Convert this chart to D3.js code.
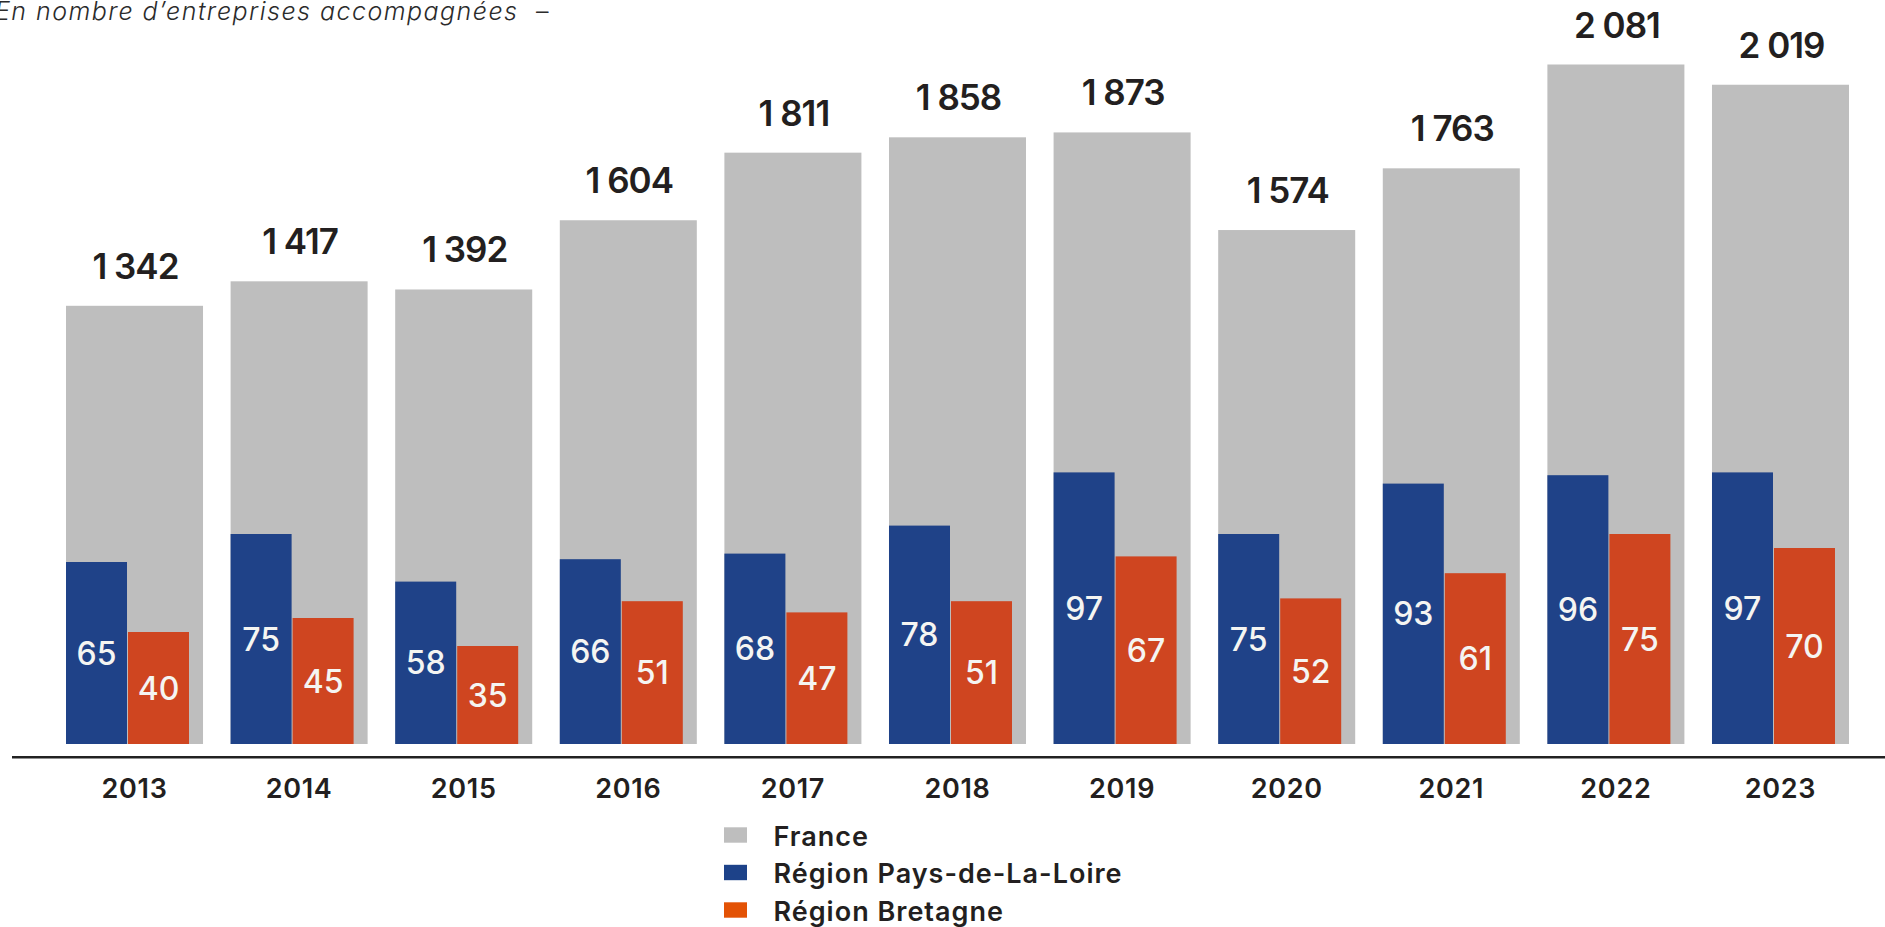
<!DOCTYPE html>
<html>
<head>
	<meta charset="utf-8" />
	<title>Entreprises accompagnées</title>
	<script src="https://d3js.org/d3.v7.min.js"></script>
	<style type="text/css">
		body {
			margin: 0;
			background: #fff;
		}
		svg text {
			font-family: Inter, "Noto Sans", sans-serif;
			fill: #231f20;
		}
	</style>
</head>
<body>
	<div id="chart"></div>
	<script>
		const years = ["2013", "2014", "2015", "2016", "2017", "2018", "2019", "2020", "2021", "2022", "2023"];
		const france = [1342, 1417, 1392, 1604, 1811, 1858, 1873, 1574, 1763, 2081, 2019];
		const paysDeLaLoire = [65, 75, 58, 66, 68, 78, 97, 75, 93, 96, 97];
		const bretagne = [40, 45, 35, 51, 47, 51, 67, 52, 61, 75, 70];
		const seriesNames = ["France", "Région Pays-de-La-Loire", "Région Bretagne"];
		const subtitle = "En nombre d’entreprises accompagnées";

		const width = 1885;
		const height = 927;
		const baseY = 744;

		const fr = d3.formatLocale({decimal: ",", thousands: "\u00a0", grouping: [3], currency: ["", " €"]});
		const fmt = fr.format(",d");

		const svg = d3.select("#chart")
			.append("svg")
			.attr("width", width)
			.attr("height", height);

		const x = d3.scaleBand()
			.domain(years)
			.range([66, 1849])
			.paddingInner(0.1676)
			.paddingOuter(0);

		const xSub = d3.scaleBand()
			.domain(["pdl", "bre"])
			.range([0, 123])
			.paddingInner(0.016);

		// two separate scales: the regional bars are not on the France scale
		const yFrance = d3.scaleLinear()
			.domain([0, 2081])
			.range([baseY, 64.5]);

		const yRegion = d3.scaleLinear()
			.domain([0, 100])
			.range([baseY, baseY - 280]);

		const rows = years.map((y, i) => ({
			year: y,
			france: france[i],
			pdl: paysDeLaLoire[i],
			bre: bretagne[i]
		}));

		// subtitle (cut at the left edge like the original)
		svg.append("text")
			.attr("x", -5)
			.attr("y", 19.5)
			.attr("textLength", 522)
			.attr("lengthAdjust", "spacing")
			.style("font-style", "italic")
			.style("font-weight", 300)
			.style("font-size", "25px")
			.style("fill", "#2b2b2b")
			.text(subtitle);
		svg.append("text")
			.attr("x", 536)
			.attr("y", 19.5)
			.style("font-weight", 300)
			.style("font-size", "25px")
			.style("fill", "#2b2b2b")
			.text("–");

		const g = svg.selectAll(".year")
			.data(rows)
			.enter()
			.append("g")
			.attr("class", "year")
			.attr("transform", d => "translate(" + x(d.year) + ",0)");

		g.append("rect")
			.attr("x", 0)
			.attr("y", d => yFrance(d.france))
			.attr("width", x.bandwidth())
			.attr("height", d => baseY - yFrance(d.france))
			.attr("fill", "#bebebe");

		g.append("text")
			.attr("x", x.bandwidth() / 2 + 1)
			.attr("y", d => yFrance(d.france) - 27)
			.attr("text-anchor", "middle")
			.style("font-size", "35px")
			.style("font-weight", 600)
			.style("letter-spacing", "-1px")
			.text(d => fmt(d.france));

		g.append("rect")
			.attr("x", xSub("pdl"))
			.attr("y", d => yRegion(d.pdl))
			.attr("width", xSub.bandwidth())
			.attr("height", d => baseY - yRegion(d.pdl))
			.attr("fill", "#1f4288");

		g.append("rect")
			.attr("x", xSub("bre"))
			.attr("y", d => yRegion(d.bre))
			.attr("width", xSub.bandwidth())
			.attr("height", d => baseY - yRegion(d.bre))
			.attr("fill", "#cf4520");

		g.append("text")
			.attr("x", xSub("pdl") + xSub.bandwidth() / 2)
			.attr("y", d => (yRegion(d.pdl) + baseY) / 2)
			.attr("dy", "0.36em")
			.attr("text-anchor", "middle")
			.style("font-size", "32px")
			.style("font-weight", 500)
			.style("fill", "#f5f5f2")
			.text(d => d.pdl);

		g.append("text")
			.attr("x", xSub("bre") + xSub.bandwidth() / 2)
			.attr("y", d => (yRegion(d.bre) + baseY) / 2)
			.attr("dy", "0.36em")
			.attr("text-anchor", "middle")
			.style("font-size", "32px")
			.style("font-weight", 500)
			.style("fill", "#f5f5f2")
			.text(d => d.bre);

		// axis line + year labels
		svg.append("line")
			.attr("x1", 12)
			.attr("x2", width)
			.attr("y1", 757.3)
			.attr("y2", 757.3)
			.attr("stroke", "#222")
			.attr("stroke-width", 2.6);

		svg.selectAll(".yearLabel")
			.data(years)
			.enter()
			.append("text")
			.attr("class", "yearLabel")
			.attr("x", d => x(d) + x.bandwidth() / 2)
			.attr("y", 797.7)
			.attr("text-anchor", "middle")
			.style("font-size", "27px")
			.style("font-weight", 600)
			.style("letter-spacing", "0.7px")
			.text(d => d);

		// legend
		const legendColors = ["#bebebe", "#1d4289", "#e35205"];
		const leg = svg.selectAll(".leg")
			.data(seriesNames)
			.enter()
			.append("g")
			.attr("class", "leg")
			.attr("transform", (d, i) => "translate(724," + (827.3 + i * 37.5) + ")");

		leg.append("rect")
			.attr("width", 23)
			.attr("height", 15.4)
			.attr("fill", (d, i) => legendColors[i]);

		leg.append("text")
			.attr("x", 49.5)
			.attr("y", 18.6)
			.style("font-size", "27px")
			.style("font-weight", 600)
			.style("letter-spacing", "1px")
			.text(d => d);
	</script>
</body>
</html>
